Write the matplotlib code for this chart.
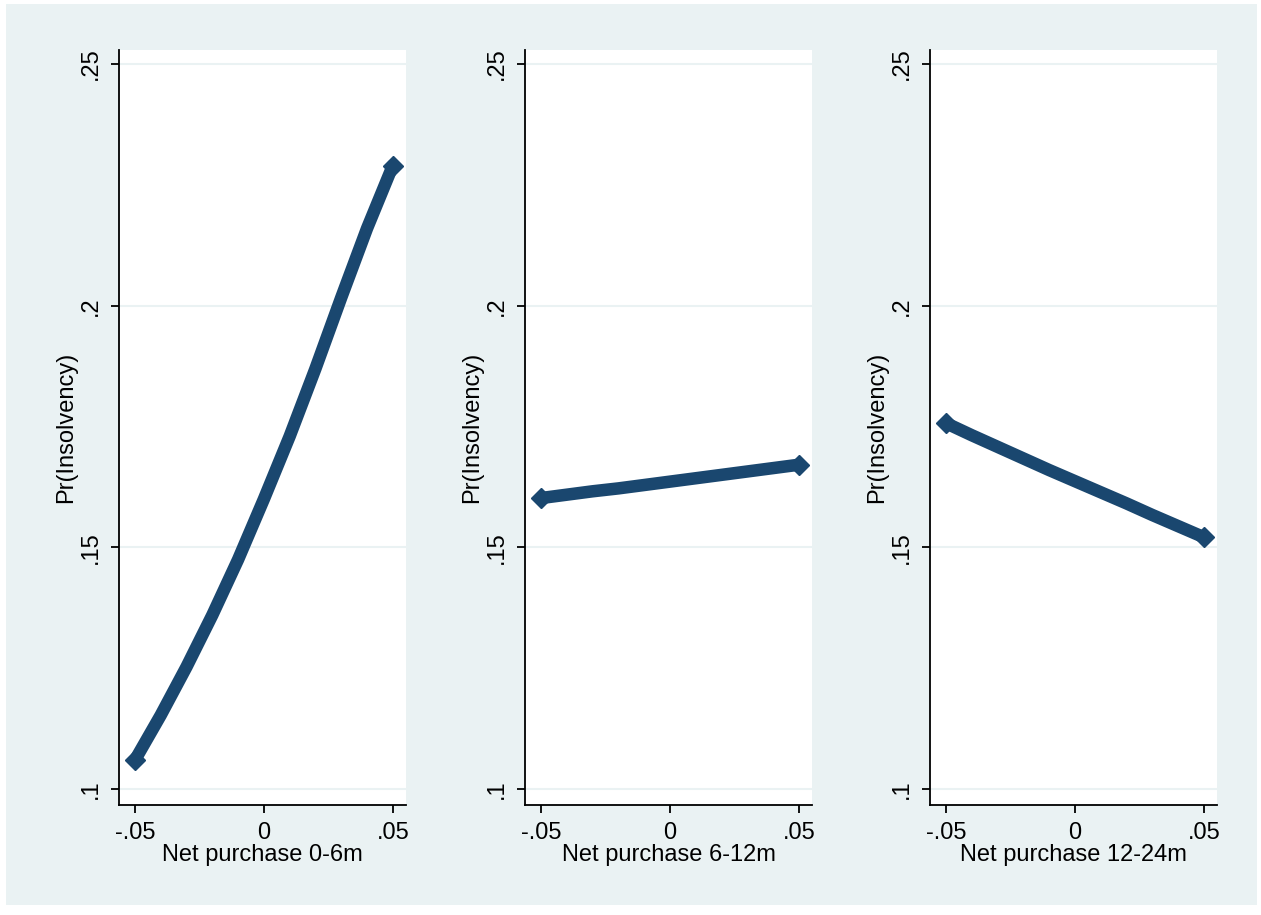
import matplotlib
matplotlib.use("Agg")
import matplotlib.pyplot as plt
from matplotlib.patches import Rectangle

plt.rcParams['font.family'] = ['Liberation Sans', 'DejaVu Sans']

# Data
x_vals = [-0.05, -0.04, -0.03, -0.02, -0.01, 0.0, 0.01, 0.02, 0.03, 0.04, 0.05]
pr_0_6 = [0.106, 0.1153, 0.1253, 0.136, 0.1475, 0.160, 0.173, 0.187, 0.2017, 0.216, 0.229]
pr_6_12 = [0.1602, 0.1609, 0.1616, 0.1622, 0.1629, 0.1636, 0.1643, 0.1650, 0.1657, 0.1664, 0.1671]
pr_12_24 = [0.1757, 0.1732, 0.1708, 0.1684, 0.1660, 0.1637, 0.1614, 0.1591, 0.1567, 0.1544, 0.1521]
series = [pr_0_6, pr_6_12, pr_12_24]
xlabels = ["Net purchase 0-6m", "Net purchase 6-12m", "Net purchase 12-24m"]
ylabel = "Pr(Insolvency)"
xticks = [-0.05, 0.0, 0.05]
xticklabels = ["-.05", "0", ".05"]
yticks = [0.10, 0.15, 0.20, 0.25]
yticklabels = [".1", ".15", ".2", ".25"]

W, H = 1261, 915
BG = '#EAF2F3'
NAVY = '#1a476f'

fig = plt.figure(figsize=(W / 100, H / 100), dpi=100, facecolor='white')
fig.patches.append(Rectangle((6 / W, 1 - 905 / H), (1257 - 6) / W, (905 - 4) / H,
                             transform=fig.transFigure, facecolor=BG, edgecolor='none', zorder=-10))

lefts = [119, 525, 930]
for i, left in enumerate(lefts):
    ax = fig.add_axes([left / W, 1 - 805 / H, 287 / W, 755 / H])
    ax.set_facecolor('white')
    ax.plot(x_vals, series[i], color=NAVY, lw=9, solid_capstyle='round',
            solid_joinstyle='round', marker='D', markersize=10,
            markevery=[0, len(x_vals) - 1], zorder=3)
    ax.set_xlim(-0.0562, 0.0551)
    ax.set_ylim(0.0967, 0.2529)
    ax.set_xticks(xticks)
    ax.set_xticklabels(xticklabels)
    ax.set_yticks(yticks)
    ax.set_yticklabels(yticklabels, rotation=90, va='center')
    ax.tick_params(axis='both', direction='out', length=6, width=1.3, color='black',
                   labelsize=17, labelcolor='black')
    ax.tick_params(axis='y', pad=6)
    ax.tick_params(axis='x', pad=6)
    ax.grid(axis='y', color=BG, lw=1.5, zorder=0)
    ax.set_axisbelow(True)
    for s in ['top', 'right']:
        ax.spines[s].set_visible(False)
    for s in ['left', 'bottom']:
        ax.spines[s].set_linewidth(1.3)
        ax.spines[s].set_color('black')
    ax.set_xlabel(xlabels[i], fontsize=17, labelpad=0)
    ax.set_ylabel(ylabel, fontsize=17, labelpad=2)

fig.savefig("out.png", dpi=100, facecolor='white')
